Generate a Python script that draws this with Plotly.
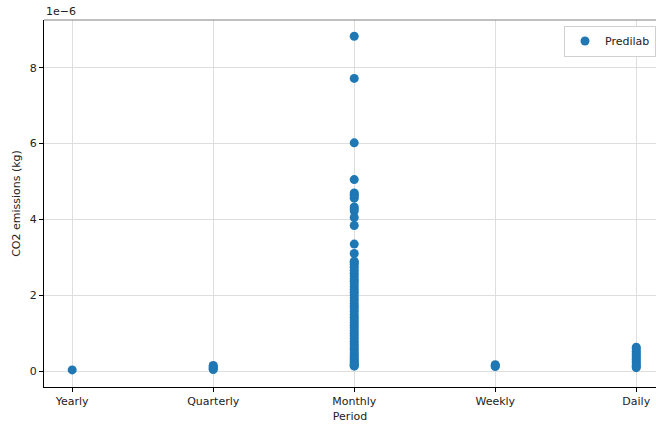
import plotly.graph_objects as go

categories = ["Yearly", "Quarterly", "Monthly", "Weekly", "Daily"]

yearly = [0.03]
quarterly = [0.15, 0.12, 0.09, 0.06, 0.04]
monthly = [8.83, 7.72, 6.02, 5.05, 4.70, 4.66, 4.62, 4.56, 4.33, 4.28, 4.22, 4.05,
           3.84, 3.35, 3.10, 2.90, 2.86, 2.81, 2.74, 2.66, 2.58, 2.51, 2.43, 2.37,
           2.30, 2.22, 2.15, 2.08, 2.01, 1.93, 1.86, 1.78, 1.71, 1.64, 1.57, 1.49,
           1.42, 1.35, 1.28, 1.21, 1.14, 1.07, 1.00, 0.93, 0.86, 0.79, 0.72, 0.66,
           0.60, 0.54, 0.48, 0.43, 0.38, 0.33, 0.29, 0.25, 0.21, 0.18, 0.15, 0.13]
weekly = [0.17, 0.14, 0.12]
daily = [0.63, 0.58, 0.52, 0.47, 0.41, 0.36, 0.31, 0.26, 0.21, 0.16, 0.12, 0.09]

scale = 1e-6
y_tick_vals = [0, 2, 4, 6, 8]

series = [yearly, quarterly, monthly, weekly, daily]
xs, ys = [], []
for cat, vals in zip(categories, series):
    for v in vals:
        xs.append(cat)
        ys.append(v * scale)

font = "DejaVu Sans, Liberation Sans, sans-serif"
fs = 11

fig = go.Figure()
fig.add_trace(go.Scatter(
    x=xs, y=ys, mode="markers", name="Predilab",
    marker=dict(color="#1f77b4", size=9, line=dict(width=0)),
))

fig.update_layout(
    width=656, height=427,
    margin=dict(l=44, r=0, t=20, b=40, autoexpand=False),
    paper_bgcolor="white", plot_bgcolor="white",
    font=dict(family=font, size=fs, color="#222"),
    showlegend=True,
    legend=dict(x=1.0, y=0.985, xanchor="right", yanchor="top",
                bordercolor="#d0d0d0", borderwidth=1, bgcolor="white",
                font=dict(size=fs), itemsizing="trace"),
    xaxis=dict(
        type="category", categoryorder="array", categoryarray=categories,
        range=[-0.2, 4.14],
        showgrid=True, gridcolor="#dedede", gridwidth=1,
        showline=True, linecolor="black", linewidth=1,
        ticks="outside", ticklen=4, tickcolor="black",
        title=dict(text="Period", standoff=5, font=dict(size=fs)),
        zeroline=False,
    ),
    yaxis=dict(
        range=[-0.42e-6, 9.26e-6],
        tickvals=[v * scale for v in y_tick_vals],
        ticktext=[str(v) for v in y_tick_vals],
        showgrid=True, gridcolor="#dedede", gridwidth=1,
        showline=True, linecolor="black", linewidth=1,
        ticks="outside", ticklen=4, tickcolor="black",
        title=dict(text="CO2 emissions (kg)", standoff=6, font=dict(size=fs)),
        zeroline=False,
    ),
    shapes=[dict(type="line", xref="paper", yref="paper", x0=0, x1=1, y0=1, y1=1,
                 line=dict(color="#808080", width=1))],
    annotations=[dict(text="1e\u22126", xref="paper", yref="paper", x=0, y=1,
                      xanchor="left", yanchor="bottom", showarrow=False,
                      font=dict(size=fs, color="#222"))],
)

fig.write_html("out.html")
